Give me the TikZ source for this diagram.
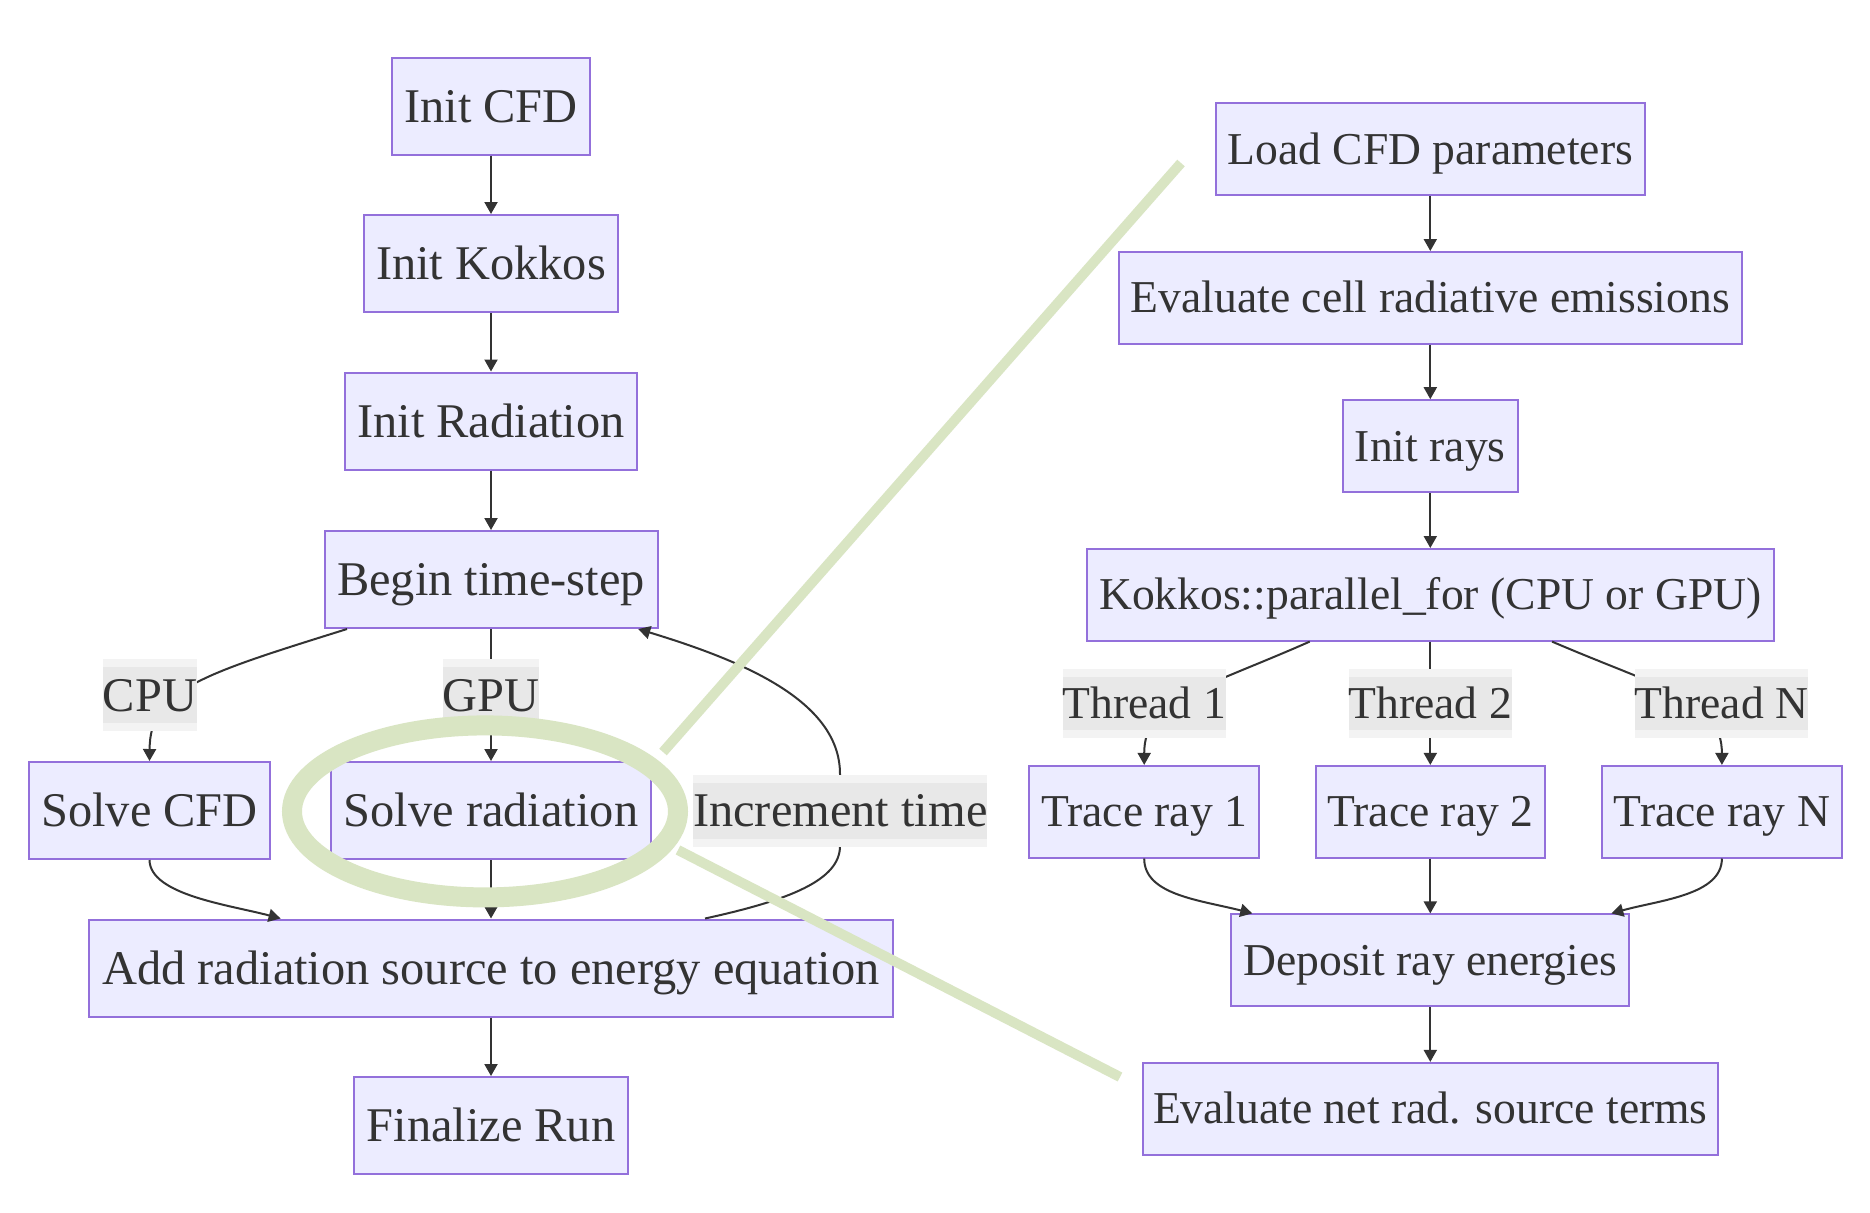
\documentclass[tikz,border=0pt]{standalone}
\usepackage{fontspec}
\setmainfont{Liberation Serif}
\usetikzlibrary{arrows.meta}
\definecolor{nodefill}{HTML}{ECECFF}
\definecolor{nodeline}{HTML}{9370DB}
\definecolor{ink}{HTML}{333333}
\definecolor{lblout}{HTML}{F3F3F3}
\definecolor{lblin}{HTML}{E8E8E8}
\definecolor{hilite}{HTML}{D9E5C3}
\tikzset{
  boxL/.style={draw=nodeline, fill=nodefill, line width=1pt, inner sep=0pt,
    text=ink, font=\fontsize{24.2pt}{29pt}\selectfont, text height=19.5pt, text depth=3.5pt,
    minimum height=48.5pt},
  boxR/.style={draw=nodeline, fill=nodefill, line width=1pt, inner sep=0pt,
    text=ink, font=\fontsize{22.8pt}{27pt}\selectfont, text height=18.6pt, text depth=3.5pt,
    minimum height=45.8pt},
  lblL/.style={fill=lblout, inner xsep=0pt, inner ysep=0pt, text=ink,
    font=\fontsize{24.2pt}{29pt}\selectfont, text height=19.5pt, text depth=3.5pt,
    minimum height=36pt,
    path picture={\fill[lblin] ([yshift=-4pt]path picture bounding box.north west) rectangle ([yshift=4pt]path picture bounding box.south east);}},
  lblR/.style={fill=lblout, inner xsep=0pt, inner ysep=0pt, text=ink,
    font=\fontsize{22.8pt}{27pt}\selectfont, text height=18.6pt, text depth=3.5pt,
    minimum height=34.2pt,
    path picture={\fill[lblin] ([yshift=-3.85pt]path picture bounding box.north west) rectangle ([yshift=3.85pt]path picture bounding box.south east);}},
  edge/.style={draw=ink, line width=1pt, -{Triangle[length=6pt,width=6.5pt]}},
  plainedge/.style={draw=ink, line width=1pt},
  mark line/.style={draw=hilite, line width=5pt},
  mark ring/.style={draw=hilite, line width=10pt}
}
\begin{document}
\begin{tikzpicture}[x=0.5pt,y=-0.5pt]
\useasboundingbox[fill=white] (0,0) rectangle (1870,1212);

% ---- left column
\node[boxL, minimum width=99pt]   (icfd) at (491,106)   {Init CFD};
\node[boxL, minimum width=127pt]  (ikok) at (491,263.5) {Init Kokkos};
\node[boxL, minimum width=146pt]  (irad) at (491,421)   {Init Radiation};
\node[boxL, minimum width=166.5pt](bts)  at (491,579.5) {Begin time-step};
\node[boxL, minimum width=120.5pt](scfd) at (149.5,810.5) {Solve CFD};
\node[boxL, minimum width=160pt]  (srad) at (491,810.5) {Solve radiation};
\node[boxL, minimum width=402pt]  (add)  at (491,968)   {Add radiation source to energy equation};
\node[boxL, minimum width=137pt]  (fin)  at (491,1125.5){Finalize Run};

% ---- right column
\node[boxR, minimum width=214.3pt] (load)  at (1430.3,149)   {Load CFD parameters};
\node[boxR, minimum width=311.6pt] (evc)   at (1430.3,297.8) {Evaluate cell radiative emissions};
\node[boxR, minimum width=87.2pt]  (irays) at (1430.3,446)   {Init rays};
\node[boxR, minimum width=343.3pt] (kok)   at (1430.3,594.8) {Kokkos::parallel\_for (CPU or GPU)};
\node[boxR, minimum width=114.8pt] (tr1)   at (1144.2,811.7) {Trace ray 1};
\node[boxR, minimum width=114.6pt] (tr2)   at (1430.3,811.7) {Trace ray 2};
\node[boxR, minimum width=119.9pt] (trN)   at (1721.9,811.7) {Trace ray N};
\node[boxR, minimum width=199pt]   (dep)   at (1430.3,960.2) {Deposit ray energies};
\node[boxR, minimum width=287.3pt] (evn)   at (1430.3,1108.7){Evaluate net rad. source terms};

% ---- left edges
\draw[edge] (icfd) -- (ikok);
\draw[edge] (ikok) -- (irad);
\draw[edge] (irad) -- (bts);
\draw[edge] ([xshift=-72pt]bts.south) .. controls (200,675) and (150,690) .. (scfd.north);
\draw[edge] (bts) -- (srad);
\draw[edge] (scfd.south) .. controls (150,895) and (230,905) .. ([xshift=-105.2pt]add.north);
\draw[edge] (srad) -- (add);
\draw[edge] (add) -- (fin);
\coordinate (incbot) at (840,846);
\coordinate (inctop) at (840,774);
\draw[edge] ([xshift=107pt]add.north) .. controls (790,900) and (840,880) .. (incbot) -- (inctop)
   .. controls (840,700) and (740,660) .. ([xshift=73.6pt]bts.south);

% ---- right edges
\draw[edge] (load) -- (evc);
\draw[edge] (evc) -- (irays);
\draw[edge] (irays) -- (kok);
\draw[edge] ([xshift=-60.3pt]kok.south) .. controls (1200,690) and (1144.2,700) .. (tr1.north);
\draw[edge] (kok) -- (tr2);
\draw[edge] ([xshift=60.9pt]kok.south) .. controls (1665,690) and (1721.9,700) .. (trN.north);
\draw[edge] (tr1.south) .. controls (1144.2,895) and (1200,900) .. ([xshift=-89pt]dep.north);
\draw[edge] (tr2) -- (dep);
\draw[edge] (trN.south) .. controls (1721.9,895) and (1660,900) .. ([xshift=90.5pt]dep.north);
\draw[edge] (dep) -- (evn);

% ---- edge labels
\node[lblL] (cpu) at (150,695) {CPU};
\node[lblL] (gpu) at (491,695) {GPU};
\node[lblL] (inc) at (840.3,810.5) {Increment time};
\node[lblR] (th1) at (1144.3,703.5) {Thread 1};
\node[lblR] (th2) at (1430.3,703.5) {Thread 2};
\node[lblR] (thN) at (1721.4,703.5) {Thread N};

% ---- highlight annotation
\draw[mark ring] (485,811.4) ellipse [x radius=96.5pt, y radius=43pt];
\draw[mark line] (663,752) -- (1181,163);
\draw[mark line] (678,850) -- (1120,1077);
\end{tikzpicture}
\end{document}
